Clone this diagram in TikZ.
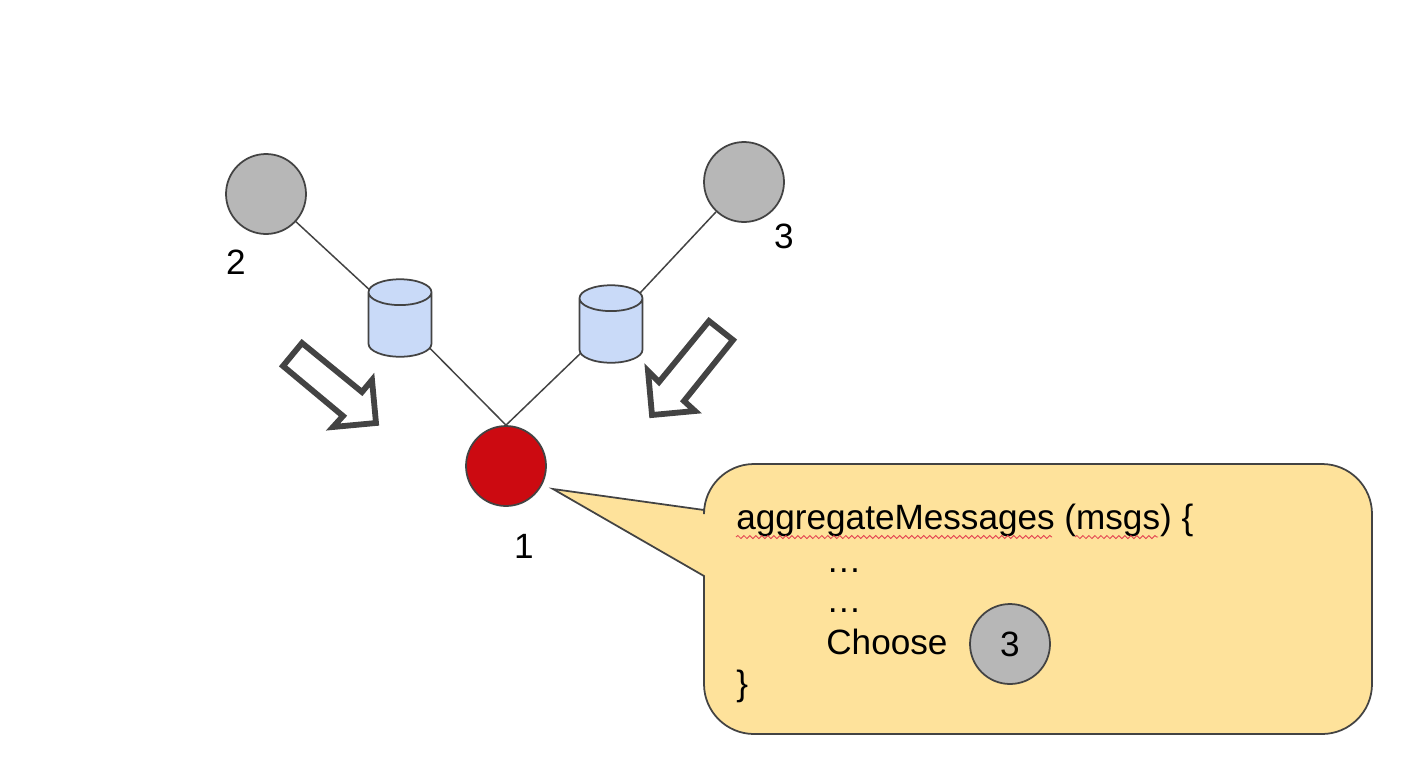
\documentclass[tikz,border=0pt]{standalone}
\usepackage{fontspec}
\setmainfont{Liberation Sans}
\usetikzlibrary{shapes.geometric,decorations.pathmorphing,backgrounds}
\definecolor{linegray}{HTML}{434343}
\definecolor{vertexgray}{HTML}{B7B7B7}
\definecolor{vertexred}{HTML}{CC0A11}
\definecolor{storeblue}{HTML}{C9DAF8}
\definecolor{bubbleyellow}{HTML}{FEE29B}
\definecolor{wavyred}{HTML}{E2404F}
\tikzset{
	vertex/.style={draw=linegray, line width=1pt, circle, minimum size=1.6cm, inner sep=0pt, fill=vertexgray, font=\fontsize{20}{24}\selectfont},
	store/.style={draw=linegray, line width=1pt, cylinder, shape border rotate=90, aspect=0.41, inner xsep=0.63cm, inner ysep=0pt, minimum height=1.55cm, fill=storeblue, anchor=shape center},
	edgeline/.style={draw=linegray, line width=0.85pt},
	bigarrow/.style={draw=linegray, line width=3.3pt, line join=miter, fill=white},
	codetext/.style={anchor=base west, inner sep=0pt, font=\fontsize{20}{24}\selectfont},
	wavy/.style={draw=wavyred, line width=0.5pt, decorate, decoration={snake, amplitude=0.03cm, segment length=0.12cm}}
}
\begin{document}
\begin{tikzpicture}[x=0.02cm, y=-0.02cm]
		\useasboundingbox (0,0) rectangle (1406,768);
		
		% Draw the vertices
		\node[vertex] (v2) at (266,194) {};
		\node[vertex] (v3) at (744,182) {};
		\node[vertex, fill=vertexred] (v1) at (506,466) {};
		
		% Draw the message stores
		\node[store] (storeL) at (400,318) {};
		\node[store] (storeR) at (611,324) {};
		
		% Connect vertices through the stores
		\begin{scope}[on background layer]
			\draw[edgeline] (v2) -- (storeL.shape center);
			\draw[edgeline] (storeL.shape center) -- (v1.north);
			\draw[edgeline] (v3) -- (storeR.shape center);
			\draw[edgeline] (storeR.shape center) -- (v1.north);
		\end{scope}
		
		% Vertex numbers
		\node[codetext, anchor=center] (num2) at (236,262) {2};
		\node[codetext, anchor=center] (num3) at (784,236) {3};
		\node[codetext, anchor=center] (num1) at (524,546) {1};
		
		% Block arrows
		\draw[bigarrow] (302,343) -- (362,392) -- (372,380) -- (376,423) -- (333,427) -- (343,416) -- (283,366) -- cycle;
		\draw[bigarrow] (709,321) -- (733,340) -- (684,401) -- (695,411) -- (652,415) -- (648,371) -- (659,382) -- cycle;
		
		% Speech bubble
		\draw[draw=linegray, line width=1pt, fill=bubbleyellow] (704,576) -- (553,489) -- (704,510) -- (704,514)
			arc[start angle=180, end angle=270, radius=50] -- (1322,464)
			arc[start angle=270, end angle=360, radius=50] -- (1372,684)
			arc[start angle=0, end angle=90, radius=50] -- (754,734)
			arc[start angle=90, end angle=180, radius=50] -- cycle;
		
		% Code lines
		\node[codetext] (line1) at (736,529) {aggregateMessages (msgs) \{};
		\node[codetext] (line2) at (826,572) {…};
		\node[codetext] (line3) at (826,612) {…};
		\node[codetext] (line4) at (826,654) {Choose};
		\node[codetext] (line5) at (736,695) {\}};
		\node[vertex] (choice) at (1010,644) {3};
		
		% Spell check marks
		\draw[wavy] (736,537) -- (1052,537);
		\draw[wavy] (1075,537) -- (1158,537);
		
	\end{tikzpicture}
\end{document}
